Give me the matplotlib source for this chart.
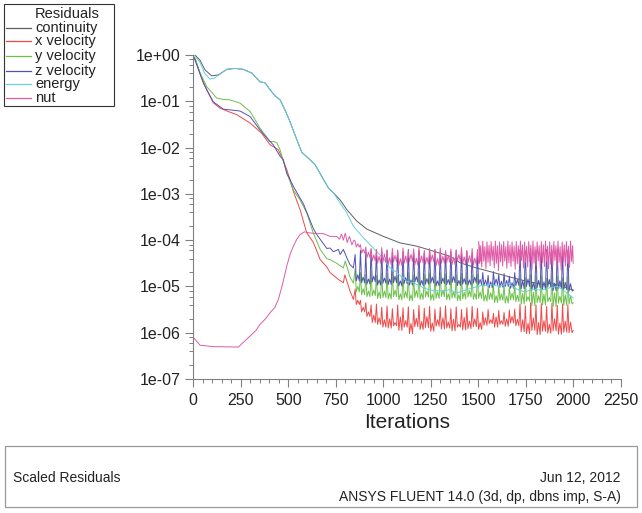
import numpy as np
import matplotlib
matplotlib.use("Agg")
import matplotlib.pyplot as plt
from matplotlib.lines import Line2D
from matplotlib.patches import Rectangle
from matplotlib.ticker import FixedLocator, LogLocator, MultipleLocator, NullFormatter

plt.rcParams['font.family'] = ['Liberation Sans', 'DejaVu Sans']

# ---------------- data (residual values given as log10 exponents) -------------
series_names = ["continuity", "x velocity", "y velocity", "z velocity", "energy", "nut"]
series_colors = ["#5f5f5f", "#f04848", "#6cc048", "#5252b4", "#62d0e2", "#e05aa6"]

x_ticks = [0, 250, 500, 750, 1000, 1250, 1500, 1750, 2000, 2250]
y_ticks = [1e0, 1e-1, 1e-2, 1e-3, 1e-4, 1e-5, 1e-6, 1e-7]
y_tick_labels = ["1e+00", "1e-01", "1e-02", "1e-03", "1e-04", "1e-05", "1e-06", "1e-07"]

# continuity (smooth)
cont_iter = [0, 9, 35, 61, 97, 132, 176, 220, 263, 308, 351, 378, 404, 430, 457, 483, 509, 545,
             571, 606, 641, 676, 711, 738, 773, 808, 861, 913, 1001, 1089, 1177, 1265, 1352, 1405,
             1490, 1581, 1670, 1757, 1844, 1880, 1914, 1960, 2000]
cont_exp = [0.0, 0.0, -0.11, -0.32, -0.45, -0.43, -0.31, -0.29, -0.31, -0.39, -0.58, -0.60, -0.75,
            -0.88, -0.97, -1.19, -1.44, -1.83, -2.10, -2.23, -2.37, -2.62, -2.87, -2.98, -3.13,
            -3.34, -3.59, -3.76, -3.92, -4.06, -4.13, -4.24, -4.35, -4.49, -4.60, -4.70, -4.80,
            -4.89, -4.96, -4.93, -4.97, -5.02, -5.08]

# energy (smooth)
energy_iter = [0, 9, 35, 60, 88, 110, 132, 176, 220, 263, 308, 351, 378, 404, 430, 457, 483, 509,
               545, 571, 606, 641, 676, 711, 738, 773, 808, 843, 896, 931, 966, 1001, 1036, 1072,
               1124, 1159, 1212, 1247, 1300, 1350, 1388, 1430, 1480, 1520, 1567, 1610, 1655, 1700,
               1743, 1790, 1831, 1875, 1918, 1960, 2000]
energy_exp = [0.0, -0.02, -0.16, -0.40, -0.52, -0.50, -0.44, -0.31, -0.29, -0.31, -0.39, -0.58,
              -0.60, -0.75, -0.88, -0.97, -1.19, -1.44, -1.83, -2.10, -2.23, -2.37, -2.62, -2.87,
              -2.98, -3.20, -3.41, -3.70, -3.95, -4.10, -4.25, -4.40, -4.60, -4.70, -4.89, -4.92,
              -5.03, -5.08, -5.10, -5.07, -5.14, -5.08, -5.02, -4.98, -4.96, -5.00, -4.93, -5.05,
              -5.12, -5.06, -5.08, -5.03, -5.00, -5.12, -5.25]

# x velocity, smooth part before the oscillations
xvel_iter = [0, 9, 35, 70, 105, 141, 190, 229, 299, 360, 404, 430, 448, 470, 492, 509, 527, 562,
             597, 632, 668, 703, 720, 764, 790, 798, 825, 843]
xvel_exp = [-0.03, -0.07, -0.39, -0.75, -1.03, -1.15, -1.23, -1.29, -1.47, -1.69, -1.94, -2.00,
            -2.05, -2.25, -2.48, -2.69, -2.95, -3.34, -3.84, -4.05, -4.42, -4.58, -4.70, -4.85,
            -4.92, -4.75, -5.10, -5.28]

# y velocity, smooth part
yvel_iter = [0, 9, 35, 70, 123, 160, 193, 246, 299, 351, 404, 425, 440, 457, 492, 527, 562, 597,
             632, 668, 703, 720, 755, 790, 800, 825, 843]
yvel_exp = [-0.03, -0.07, -0.38, -0.68, -0.93, -0.96, -0.97, -1.04, -1.22, -1.58, -1.87, -1.87,
            -1.90, -2.05, -2.55, -2.92, -3.13, -3.41, -3.85, -4.20, -4.40, -4.42, -4.50, -4.60,
            -4.45, -4.80, -4.93]

# z velocity, smooth part
zvel_iter = [0, 9, 53, 105, 158, 246, 299, 351, 395, 421, 457, 474, 492, 509, 527, 580, 632, 650,
             703, 720, 738, 764, 773, 790, 808, 825, 843]
zvel_exp = [-0.03, -0.11, -0.61, -1.01, -1.17, -1.21, -1.33, -1.62, -1.83, -1.94, -2.19, -2.26,
            -2.55, -2.69, -2.84, -3.22, -3.75, -3.88, -4.18, -4.17, -4.25, -4.20, -4.31, -4.20,
            -4.38, -4.53, -4.60]

# nut, smooth part
nut_iter = [0, 9, 35, 105, 237, 263, 299, 330, 351, 380, 404, 430, 448, 470, 492, 510, 527, 545,
            562, 585, 606, 650, 685, 720, 755, 770, 780, 790, 800, 810, 822, 835, 845]
nut_exp = [-6.10, -6.14, -6.27, -6.30, -6.31, -6.21, -6.07, -5.95, -5.82, -5.70, -5.57, -5.45,
           -5.28, -4.95, -4.56, -4.30, -4.13, -3.98, -3.88, -3.82, -3.84, -3.86, -3.86, -3.92,
           -3.92, -3.98, -3.87, -4.00, -3.85, -4.05, -3.92, -4.10, -4.00]

# oscillating part: one spike every 28 iterations from 852; per spike: peak, low, mid-base value
spike_iter = np.arange(852, 1973, 28)

xvel_peak = [-5.06, -5.30, -5.35, -5.40, -5.38, -5.45, -5.42, -5.48, -5.40, -5.46, -5.44, -5.50,
             -5.41, -5.47, -5.43, -5.49, -5.45, -5.42, -5.48, -5.44, -5.50, -5.46, -5.43, -5.47,
             -5.55, -5.50, -5.58, -5.52, -5.56, -5.51, -5.49,
             -5.38, -5.42, -5.35, -5.40, -5.37, -5.43, -5.36, -5.41, -5.38, -5.40]
xvel_trough = [-5.39, -5.55, -5.65, -5.78, -5.82, -5.88, -5.90, -5.85, -5.95, -5.88, -6.02, -5.87,
               -5.93, -5.89, -5.97, -5.86, -5.92, -5.90, -5.96, -5.88, -5.94, -5.91, -5.87, -5.93,
               -5.84, -5.80, -5.88, -5.82, -5.86, -5.79, -5.85,
               -5.98, -6.02, -5.95, -6.04, -5.97, -6.01, -5.96, -6.03, -5.99, -6.00]
xvel_mid = [-5.30, -5.45, -5.55, -5.62, -5.68, -5.72, -5.70, -5.78, -5.66, -5.74, -5.80, -5.69,
            -5.76, -5.65, -5.79, -5.72, -5.68, -5.77, -5.71, -5.82, -5.67, -5.75, -5.70, -5.78,
            -5.68, -5.72, -5.66, -5.74, -5.70, -5.65, -5.71,
            -5.72, -5.80, -5.68, -5.78, -5.74, -5.82, -5.70, -5.79, -5.75, -5.77]

yvel_peak = [-4.62, -4.70, -4.74, -4.68, -4.76, -4.71, -4.73, -4.69, -4.77, -4.72, -4.70, -4.75,
             -4.68, -4.74, -4.71, -4.77, -4.70, -4.73, -4.69, -4.75, -4.72, -4.70, -4.76, -4.73,
             -4.95, -5.00, -4.93, -4.98, -4.96, -5.01, -4.94,
             -4.76, -4.80, -4.74, -4.79, -4.77, -4.82, -4.75, -4.78, -4.81, -4.79]
yvel_trough = [-5.12, -5.18, -5.22, -5.20, -5.26, -5.24, -5.27, -5.22, -5.29, -5.25, -5.31, -5.24,
               -5.28, -5.23, -5.30, -5.26, -5.22, -5.29, -5.25, -5.31, -5.27, -5.23, -5.28, -5.26,
               -5.32, -5.28, -5.35, -5.30, -5.36, -5.29, -5.33,
               -5.38, -5.32, -5.42, -5.35, -5.40, -5.33, -5.44, -5.36, -5.41, -5.38]
yvel_mid = [-5.00, -5.05, -5.10, -5.08, -5.12, -5.10, -5.14, -5.08, -5.16, -5.11, -5.18, -5.09,
            -5.15, -5.10, -5.17, -5.12, -5.08, -5.16, -5.11, -5.18, -5.13, -5.09, -5.15, -5.12,
            -5.18, -5.14, -5.20, -5.16, -5.21, -5.15, -5.19,
            -5.15, -5.22, -5.12, -5.20, -5.17, -5.24, -5.14, -5.21, -5.18, -5.20]

zvel_peak = [-4.31, -4.22, -4.26, -4.20, -4.28, -4.24, -4.21, -4.27, -4.23, -4.25, -4.20, -4.26,
             -4.22, -4.28, -4.24, -4.21, -4.27, -4.23, -4.25, -4.22, -4.28, -4.24, -4.30, -4.26,
             -4.70, -4.76, -4.68, -4.74, -4.72, -4.78, -4.70,
             -4.20, -4.24, -4.18, -4.22, -4.26, -4.20, -4.23, -4.19, -4.25, -4.22]
zvel_trough = [-4.88, -4.92, -4.95, -4.90, -4.97, -4.93, -4.96, -4.92, -4.99, -4.94, -4.97, -4.91,
               -4.98, -4.95, -4.93, -4.99, -4.94, -4.96, -4.92, -4.98, -4.95, -4.97, -4.93, -4.96,
               -4.99, -5.03, -4.97, -5.02, -5.00, -5.04, -4.98,
               -5.05, -5.00, -5.08, -5.03, -5.06, -5.01, -5.09, -5.04, -5.07, -5.10]
zvel_mid = [-4.75, -4.80, -4.84, -4.78, -4.86, -4.82, -4.84, -4.78, -4.88, -4.81, -4.86, -4.79,
            -4.87, -4.83, -4.80, -4.88, -4.82, -4.85, -4.79, -4.87, -4.83, -4.86, -4.80, -4.85,
            -4.86, -4.90, -4.84, -4.89, -4.87, -4.92, -4.85,
            -4.88, -4.84, -4.92, -4.87, -4.90, -4.85, -4.93, -4.88, -4.91, -4.94]

nut_peak = [-4.02, -4.10, -4.15, -4.18, -4.20, -4.16, -4.22, -4.18, -4.21, -4.17, -4.23, -4.19,
            -4.16, -4.22, -4.18, -4.20, -4.17, -4.23, -4.19, -4.21, -4.16, -4.22, -4.18, -4.20]
nut_trough = [-4.15, -4.28, -4.38, -4.45, -4.50, -4.48, -4.53, -4.47, -4.55, -4.50, -4.46, -4.54,
              -4.49, -4.52, -4.47, -4.55, -4.50, -4.48, -4.53, -4.46, -4.51, -4.49, -4.54, -4.50]
nut_mid = [-4.08, -4.20, -4.26, -4.32, -4.35, -4.30, -4.38, -4.33, -4.40, -4.34, -4.31, -4.39,
           -4.34, -4.37, -4.32, -4.40, -4.35, -4.33, -4.38, -4.31, -4.36, -4.34, -4.39, -4.35]

# nut dense band after iteration 1500: a sample every 5.5 iterations
nut_band_start = 1502
nut_band_step = 5.5
nut_band_exp = [-4.03, -4.50, -4.12, -4.58, -4.02, -4.46, -4.14, -4.62, -4.04, -4.48, -4.11, -4.55,
                -4.03, -4.44, -4.13, -4.60, -4.02, -4.50, -4.12, -4.66, -4.04, -4.47, -4.10, -4.56,
                -4.03, -4.45, -4.14, -4.61, -4.02, -4.49, -4.11, -4.57, -4.04, -4.46, -4.13, -4.63,
                -4.03, -4.51, -4.12, -4.55, -4.02, -4.44, -4.10, -4.60, -4.04, -4.48, -4.13, -4.58,
                -4.03, -4.47, -4.11, -4.64, -4.02, -4.50, -4.14, -4.56, -4.04, -4.45, -4.12, -4.61,
                -4.03, -4.49, -4.10, -4.57, -4.02, -4.46, -4.13, -4.62, -4.04, -4.52, -4.11, -4.55,
                -4.03, -4.44, -4.12, -4.60, -4.02, -4.48, -4.14, -4.65, -4.04, -4.47, -4.10, -4.56,
                -4.03, -4.50, -4.13, -4.59, -4.02, -4.46, -4.12]

end_iter = 2000
xvel_end, yvel_end, zvel_end, nut_end = -5.95, -5.35, -5.08, -4.50


def with_spikes(it, ex, peaks, lows, mids):
    it, ex = list(it), list(ex)
    for k, (p, lo, m) in enumerate(zip(peaks, lows, mids)):
        s = spike_iter[k]
        it += [s, s + 6, s + 14, s + 22]
        ex += [p, lo, m, lo]
    return it, ex


xv_it, xv_ex = with_spikes(xvel_iter, xvel_exp, xvel_peak, xvel_trough, xvel_mid)
yv_it, yv_ex = with_spikes(yvel_iter, yvel_exp, yvel_peak, yvel_trough, yvel_mid)
zv_it, zv_ex = with_spikes(zvel_iter, zvel_exp, zvel_peak, zvel_trough, zvel_mid)
nu_it, nu_ex = with_spikes(nut_iter, nut_exp, nut_peak, nut_trough, nut_mid)
nu_it += list(nut_band_start + nut_band_step * np.arange(len(nut_band_exp)))
nu_ex += nut_band_exp
for a_it, a_ex, e in ((xv_it, xv_ex, xvel_end), (yv_it, yv_ex, yvel_end),
                      (zv_it, zv_ex, zvel_end), (nu_it, nu_ex, nut_end)):
    a_it.append(end_iter)
    a_ex.append(e)

curves = [(cont_iter, cont_exp), (xv_it, xv_ex), (yv_it, yv_ex), (zv_it, zv_ex),
          (energy_iter, energy_exp), (nu_it, nu_ex)]

# ---------------- figure ----------------
W, H = 642, 513
fig = plt.figure(figsize=(W / 100, H / 100), dpi=100)
fig.patch.set_facecolor("white")

x0, x1, y0, y1 = 193.3, 620.7, 55.0, 379.0
ax = fig.add_axes([x0 / W, 1 - y1 / H, (x1 - x0) / W, (y1 - y0) / H])

for (it, ex), c in zip(curves, series_colors):
    ax.plot(it, 10.0 ** np.asarray(ex, dtype=float), color=c, lw=0.7)

ax.set_yscale("log")
ax.set_ylim(1e-7, 1e0)
ax.set_xlim(0, 2250)
for s in ("top", "right"):
    ax.spines[s].set_visible(False)
for s in ("left", "bottom"):
    ax.spines[s].set_color("#808080")
    ax.spines[s].set_linewidth(0.8)

ax.xaxis.set_major_locator(FixedLocator(x_ticks))
ax.set_xticklabels([str(v) for v in x_ticks])
ax.xaxis.set_minor_locator(MultipleLocator(50))
ax.yaxis.set_major_locator(FixedLocator(y_ticks))
ax.set_yticklabels(y_tick_labels)
ax.yaxis.set_minor_locator(LogLocator(base=10, subs=[2, 4, 6, 8], numticks=20))
ax.yaxis.set_minor_formatter(NullFormatter())
ax.tick_params(which="major", direction="out", length=6, width=0.8, color="#808080",
               labelsize=11.5, labelcolor="#222222")
ax.tick_params(axis="y", which="major", pad=3)
ax.tick_params(axis="x", which="major", pad=4)
ax.tick_params(which="minor", direction="out", length=3, width=0.7, color="#808080")

fig.text(407 / W, 1 - 423 / H, "Iterations", fontsize=15, ha="center", va="center",
         color="#222222")

# legend block (top-left)
fig.add_artist(Rectangle((4 / W, 1 - 106 / H), 110 / W, 102 / H, transform=fig.transFigure,
                         fill=False, edgecolor="#333333", lw=0.8))
fig.text(35 / W, 1 - 14 / H, "Residuals", fontsize=10.5, ha="left", va="center", color="#222222")
legend_y = [28, 41, 56, 71, 84, 98]
for name, c, yy in zip(series_names, series_colors, legend_y):
    fig.add_artist(Line2D([6 / W, 31 / W], [1 - yy / H, 1 - yy / H], transform=fig.transFigure,
                          color=c, lw=0.9))
    fig.text(35 / W, 1 - yy / H, name, fontsize=10.5, ha="left", va="center", color="#222222")

# bottom info box
fig.add_artist(Rectangle((5 / W, 1 - 507 / H), 632 / W, 61 / H, transform=fig.transFigure,
                         fill=False, edgecolor="#9a9a9a", lw=0.9))
fig.text(13 / W, 1 - 478 / H, "Scaled Residuals", fontsize=10, ha="left", va="center",
         color="#222222")
fig.text(621 / W, 1 - 478 / H, "Jun 12, 2012", fontsize=10, ha="right", va="center",
         color="#222222")
fig.text(621 / W, 1 - 497 / H, "ANSYS FLUENT 14.0 (3d, dp, dbns imp, S-A)", fontsize=10,
         ha="right", va="center", color="#222222")

fig.savefig("out.png", dpi=100)
